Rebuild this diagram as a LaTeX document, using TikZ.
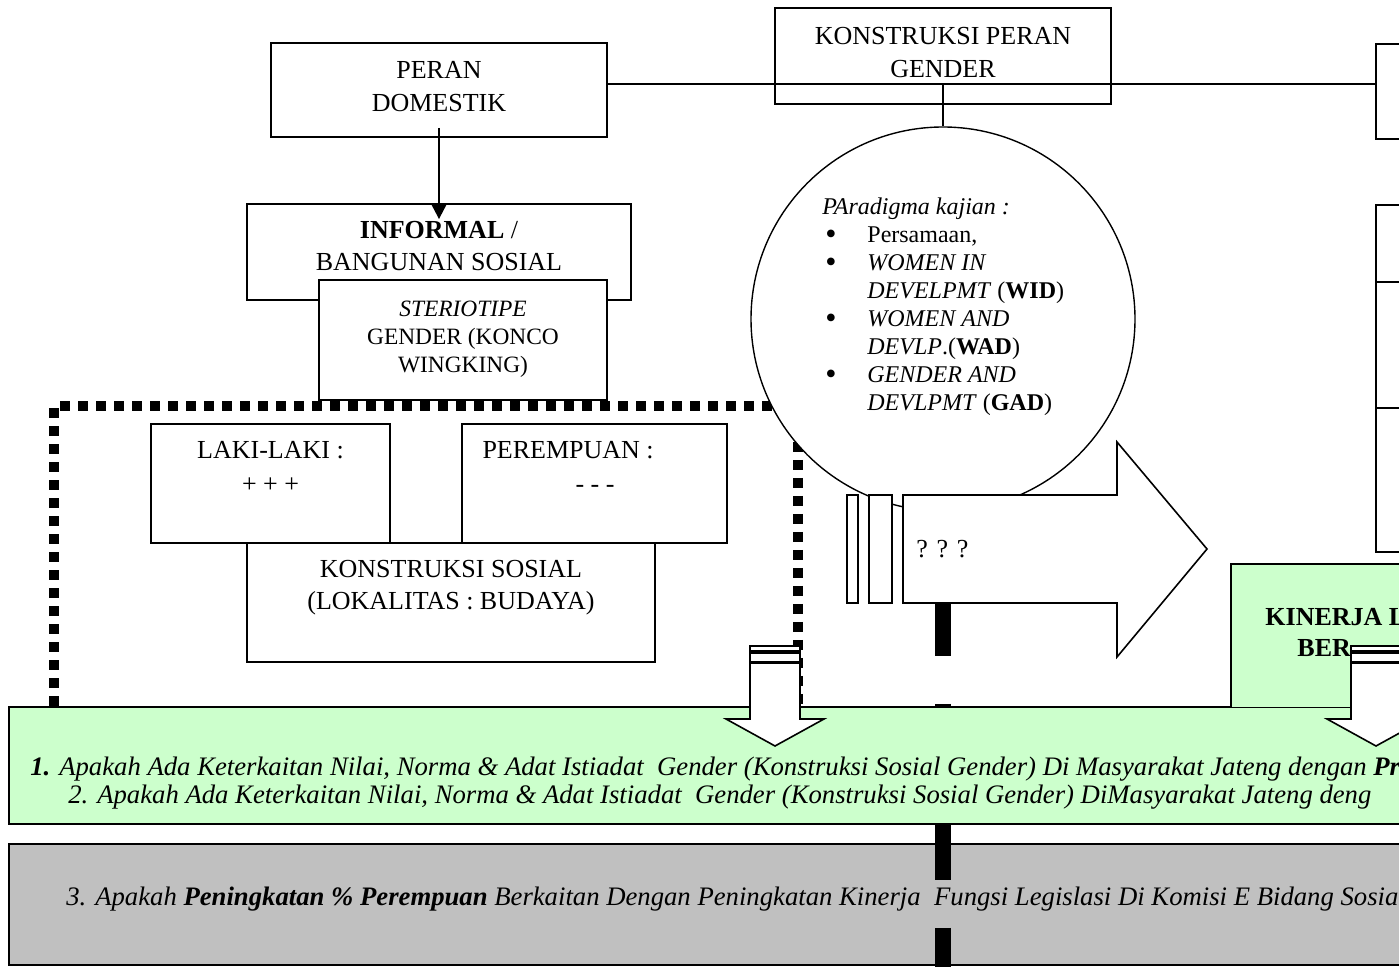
\documentclass[tikz,border=0pt]{standalone}
\usepackage{fontspec}
\setmainfont{Liberation Serif}
\usetikzlibrary{arrows.meta, positioning}
\definecolor{hijaumuda}{HTML}{CCFFCC}
\definecolor{abuabu}{HTML}{C0C0C0}
\newcommand{\butir}{\makebox[22.5pt][l]{\hspace{1.5pt}\raisebox{-1pt}{\fontsize{16}{14}\selectfont\textbullet}}}
\tikzset{
  kotak/.style={
    rectangle,
    draw=black,
    line width=0.9pt,
    fill=white,
    align=center,
    inner sep=0pt,
    font=\fontsize{13}{16.5}\selectfont
  },
  teks/.style={
    align=center,
    inner sep=0pt,
    font=\fontsize{13}{17}\selectfont
  },
  panah/.style={
    -{Triangle[length=7pt, width=7pt]},
    line width=1pt
  },
  titik/.style={
    line width=5pt,
    dash pattern=on 5pt off 4pt
  },
  batang/.style={
    line width=8pt
  },
  tanya/.style={
    anchor=north west,
    align=left,
    inner sep=0pt,
    font=\fontsize{13.35}{14}\selectfont\itshape
  }
}

\begin{document}
\begin{tikzpicture}[x=0.5pt, y=-0.5pt]
    \useasboundingbox (0,0) rectangle (1399,967);
    \clip (0,0) rectangle (1399,967);

    % batas lokalitas (garis titik tebal)
    \draw[titik] (54,760) -- (54,406) -- (798,406) -- (798,760);

    \node[kotak, text depth=4pt, minimum width=168pt, minimum height=47pt] (domestik) at (439,90) {PERAN\\DOMESTIK};
    \node[kotak, fill=none, text depth=4pt, minimum width=168pt, minimum height=48pt] (konstruksi) at (943,56) {KONSTRUKSI PERAN\\GENDER};
    \node[kotak, anchor=north west, minimum width=60pt, minimum height=47.5pt] (kananA) at (1375,43) {};
    \node[kotak, anchor=north west, minimum width=60pt, minimum height=38.5pt] (kananB) at (1375,204) {};
    \node[kotak, anchor=north west, minimum width=60pt, minimum height=63pt] (kananC) at (1375,281) {};
    \node[kotak, anchor=north west, minimum width=60pt, minimum height=72pt] (kananD) at (1375,407) {};

    \node[kotak, text depth=6pt, minimum width=192pt, minimum height=48pt, font=\fontsize{13}{16}\selectfont] (informal) at (439,252) {\textbf{INFORMAL} /\\BANGUNAN SOSIAL};
    \node[kotak, text depth=3pt, minimum width=144pt, minimum height=60pt, font=\fontsize{11.7}{14}\selectfont] (steriotipe) at (463,340) {\textit{STERIOTIPE}\\GENDER (KONCO\\WINGKING)};

    \node[kotak, minimum width=119.5pt, minimum height=59.5pt] (laki) at (270.5,483.5) {};
    \node[kotak, minimum width=132.5pt, minimum height=59.5pt] (perempuan) at (594.5,483.5) {};
    \node[kotak, minimum width=204pt, minimum height=59.5pt] (sosial) at (451,602.5) {};
    \node[teks, below=9pt of laki.north] (lakiteks) {LAKI-LAKI :\\+ + +};
    \node[teks, align=left, below right=9pt and 10.5pt of perempuan.north west] (perempuanteks) {PEREMPUAN :\\\hspace*{46.5pt}- - -};
    \node[teks, font=\fontsize{13}{16}\selectfont, below=9pt of sosial.north] (sosialteks) {KONSTRUKSI SOSIAL\\(LOKALITAS : BUDAYA)};

    \coordinate (simpul) at (943,84);
    \draw[line width=0.9pt] (domestik.east |- simpul) -- (kananA.west |- simpul);
    \draw[panah] ([yshift=5pt]domestik.south) -- ([yshift=-8pt]informal.north);

    % lingkaran paradigma
    \node[circle, draw, line width=0.7pt, fill=white, minimum size=192pt, inner sep=0pt] (paradigma) at (943,319) {};
    \draw[line width=0.9pt] (simpul) -- (paradigma.north);
    \node[anchor=north west, align=left, inner sep=0pt, font=\fontsize{12}{14}\selectfont] (kajian) at (822,197) {%
      \textit{PAradigma kajian :}\\
      \butir Persamaan,\\
      \butir\textit{WOMEN IN}\\
      \hspace*{22.5pt}\textit{DEVELPMT} (\textbf{WID})\\
      \butir\textit{WOMEN AND}\\
      \hspace*{22.5pt}\textit{DEVLP}.(\textbf{WAD})\\
      \butir\textit{GENDER AND}\\
      \hspace*{22.5pt}\textit{DEVLPMT} (\textbf{GAD})};

    % panah besar
    \node[kotak, line width=0.8pt, minimum width=5.5pt, minimum height=54pt] (lajur1) at (852.5,549) {};
    \node[kotak, line width=0.8pt, minimum width=11.5pt, minimum height=54pt] (lajur2) at (880.5,549) {};
    \draw[line width=0.8pt, fill=white] (903,495) -- (1117,495) -- (1117,442) -- (1207,549)
      -- (1117,657) -- (1117,603) -- (903,603) -- cycle;
    \node[teks, anchor=west] (tanyateks) at (916,549) {? ? ?};

    % kotak pertanyaan
    \node[draw, line width=0.9pt, fill=abuabu, anchor=north west, minimum width=736pt, minimum height=60.5pt] (abu) at (8,843) {};
    \coordinate (tiangA) at (943,603);
    \coordinate (tiangB) at (943,712);
    \coordinate (tiangC) at (943,823);
    \coordinate (tiangD) at (943,967);
    \draw[batang, dash pattern=on 26.5pt off 24pt] (tiangA) -- (tiangB);
    \draw[batang, dash pattern=on 28.5pt off 24pt] (tiangC) -- (tiangD);
    \node[draw, line width=0.9pt, fill=hijaumuda, anchor=north west, minimum width=736pt, minimum height=58.5pt] (hijau) at (8,706) {};

    \node[fill=hijaumuda, anchor=north west, minimum width=124.5pt, minimum height=71.5pt, inner sep=0pt] (kinerja) at (1231,564) {};
    \draw[line width=0.9pt] (kinerja.south west) |- (kinerja.north east);
    \node[teks, align=left, anchor=west, font=\fontsize{13}{15.5}\selectfont\bfseries] (kinerjateks) at (1265,632) {KINERJA L\\\hspace*{16pt}BER};

    \node[tanya] (tanya1) at (30,757) {\textbf{1.} Apakah Ada Keterkaitan Nilai, Norma \& Adat Istiadat~ Gender (Konstruksi Sosial Gender) Di Masyarakat Jateng dengan \textbf{Pr}\\
      \hspace*{19pt}2. Apakah Ada Keterkaitan Nilai, Norma \& Adat Istiadat~ Gender (Konstruksi Sosial Gender) DiMasyarakat Jateng deng};
    \node[tanya] (tanya3) at (66,887) {3. Apakah \textbf{Peningkatan \% Perempuan} Berkaitan Dengan Peningkatan Kinerja~ Fungsi Legislasi Di Komisi E Bidang Sosia};

    % panah turun
    \foreach \cx in {775,1376} {
      \draw[line width=0.8pt, fill=white] ({\cx-25},646) rectangle ({\cx+25},651);
      \draw[line width=0.8pt, fill=white] ({\cx-25},653) rectangle ({\cx+25},662);
      \draw[line width=0.8pt, fill=white] ({\cx-25},663) -- ({\cx+25},663) -- ({\cx+25},719)
        -- ({\cx+49},719) -- (\cx,746) -- ({\cx-49},719) -- ({\cx-25},719) -- cycle;
    }
\end{tikzpicture}
\end{document}
